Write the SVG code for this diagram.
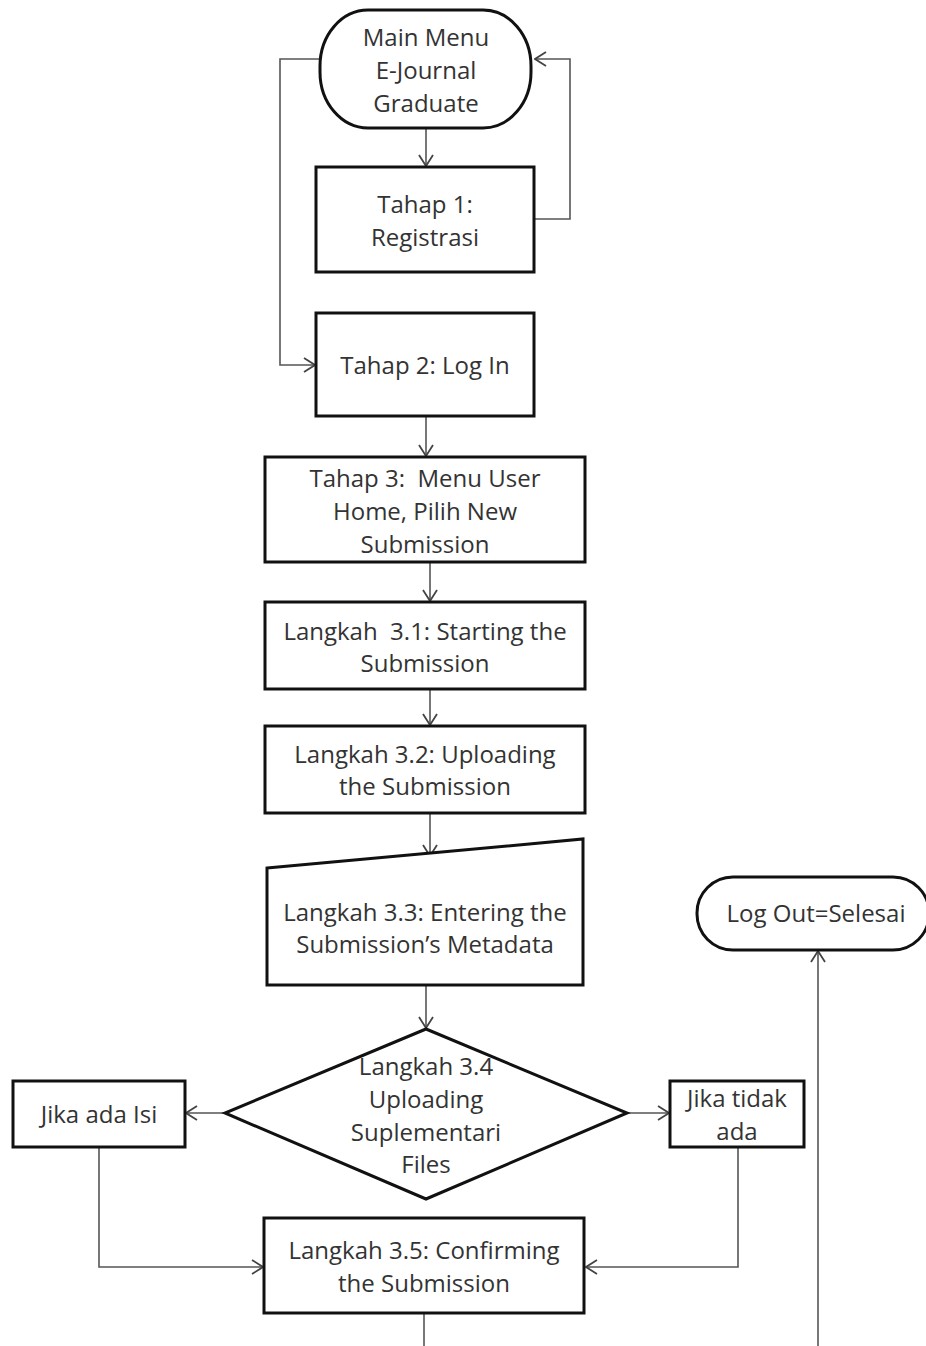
<svg xmlns="http://www.w3.org/2000/svg" width="926" height="1346" viewBox="0 0 926 1346">
<defs>
<marker id="arr" viewBox="0 0 14 16" refX="13" refY="8" markerWidth="14" markerHeight="16" markerUnits="userSpaceOnUse" orient="auto">
<path d="M2,1 L13,8 L2,15" fill="none" stroke="#444" stroke-width="1.8"/>
</marker>
<style>
.n{fill:#fff;stroke:#111;stroke-width:3}
.t{font-family:"Open Sans","Noto Sans",sans-serif;font-size:24px;fill:#333;text-anchor:middle;dominant-baseline:central;white-space:pre}
.c{fill:none;stroke:#555;stroke-width:1.6}
</style>
</defs>
<rect width="926" height="1346" fill="#fff"/>
<g id="connectors">
<path class="c" d="M426,128 V166" marker-end="url(#arr)"/>
<path class="c" d="M534,219 H570 V59 H535" marker-end="url(#arr)"/>
<path class="c" d="M320,59 H280 V365 H315" marker-end="url(#arr)"/>
<path class="c" d="M426,416 V456" marker-end="url(#arr)"/>
<path class="c" d="M430,562 V601" marker-end="url(#arr)"/>
<path class="c" d="M430,689 V725" marker-end="url(#arr)"/>
<path class="c" d="M430,813 V856" marker-end="url(#arr)"/>
<path class="c" d="M426,985 V1028" marker-end="url(#arr)"/>
<path class="c" d="M225,1113 H186" marker-end="url(#arr)"/>
<path class="c" d="M627,1113 H669" marker-end="url(#arr)"/>
<path class="c" d="M99,1147 V1267 H263" marker-end="url(#arr)"/>
<path class="c" d="M738,1147 V1267 H586" marker-end="url(#arr)"/>
<path class="c" d="M424,1313 V1346"/>
<path class="c" d="M818,1346 V951" marker-end="url(#arr)"/>
</g>
<g id="main-menu">
<rect class="n" x="320" y="10" width="211" height="118" rx="48" ry="56"/>
<text class="t" x="426" y="36">Main Menu</text>
<text class="t" x="426" y="69">E-Journal</text>
<text class="t" x="426" y="102">Graduate</text>
</g>
<g id="tahap1">
<rect class="n" x="316" y="167" width="218" height="105"/>
<text class="t" x="425" y="203">Tahap 1:</text>
<text class="t" x="425" y="236">Registrasi</text>
</g>
<g id="tahap2">
<rect class="n" x="316" y="313" width="218" height="103"/>
<text class="t" x="425" y="364">Tahap 2: Log In</text>
</g>
<g id="tahap3">
<rect class="n" x="265" y="457" width="320" height="105"/>
<text class="t" x="425" y="477">Tahap 3:  Menu User</text>
<text class="t" x="425" y="510">Home, Pilih New</text>
<text class="t" x="425" y="543">Submission</text>
</g>
<g id="langkah31">
<rect class="n" x="265" y="602" width="320" height="87"/>
<text class="t" x="425" y="630">Langkah  3.1: Starting the</text>
<text class="t" x="425" y="662">Submission</text>
</g>
<g id="langkah32">
<rect class="n" x="265" y="726" width="320" height="87"/>
<text class="t" x="425" y="753">Langkah 3.2: Uploading</text>
<text class="t" x="425" y="785">the Submission</text>
</g>
<g id="langkah33">
<path class="n" d="M267,868 L583,839 V985 H267 Z"/>
<text class="t" x="425" y="911">Langkah 3.3: Entering the</text>
<text class="t" x="425" y="943">Submission’s Metadata</text>
</g>
<g id="langkah34">
<path class="n" d="M426,1029 L627,1113 L426,1199 L225,1113 Z"/>
<text class="t" x="426" y="1065">Langkah 3.4</text>
<text class="t" x="426" y="1098">Uploading</text>
<text class="t" x="426" y="1131">Suplementari</text>
<text class="t" x="426" y="1163">Files</text>
</g>
<g id="jika-ada">
<rect class="n" x="13" y="1081" width="172" height="66"/>
<text class="t" x="99" y="1113">Jika ada Isi</text>
</g>
<g id="jika-tidak">
<rect class="n" x="670" y="1081" width="134" height="66"/>
<text class="t" x="737" y="1097">Jika tidak</text>
<text class="t" x="737" y="1130">ada</text>
</g>
<g id="langkah35">
<rect class="n" x="264" y="1218" width="320" height="95"/>
<text class="t" x="424" y="1249">Langkah 3.5: Confirming</text>
<text class="t" x="424" y="1282">the Submission</text>
</g>
<g id="logout">
<rect class="n" x="697" y="877" width="232" height="73" rx="36" ry="36"/>
<text class="t" x="816" y="912">Log Out=Selesai</text>
</g>
</svg>
